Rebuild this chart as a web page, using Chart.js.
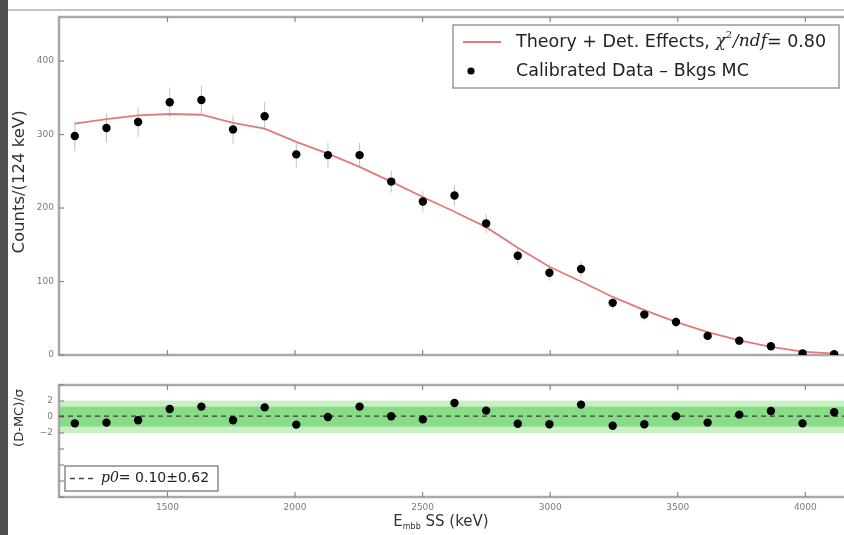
<!DOCTYPE html>
<html><head><meta charset="utf-8">
<script src="https://cdn.jsdelivr.net/npm/chart.js@4.4.1/dist/chart.umd.min.js"></script>
<style>
html,body{margin:0;padding:0;background:#fff;overflow:hidden;width:844px;height:535px;}
#wrap{position:relative;width:844px;height:535px;overflow:hidden;background:#fff;}
canvas{position:absolute;left:0;}
#bar{position:absolute;left:0;top:0;width:8px;height:535px;background:#4f4f4f;}
#hline{position:absolute;left:8px;top:9px;width:836px;height:2px;background:#c4c4c4;}
</style></head>
<body><div id="wrap">
<canvas id="topc" width="860" height="370" style="top:0"></canvas>
<canvas id="botc" width="860" height="165" style="top:370px"></canvas>
<div id="bar"></div><div id="hline"></div>
</div>
<script>
// ---- data ----
const binCenters = [1137,1261,1385,1509,1633,1757,1881,2005,2129,2253,2377,2501,2625,2749,2873,2997,3121,3245,3369,3493,3617,3741,3865,3989,4113];
const dataCounts = [298,309,317,344,347,307,325,273,272,272,236,209,217,179,135,112,117,71,55,45,26,19.5,12,2,1];
const dataErrors = [20,20,20,20,20,19,19,18,17,17,15,14,14,13,12,11,11,9,8,7,6,5,4,3,2];
const theoryCounts = [315,321,326,328,327,316,308,290,274,256,236,215,195,174,146,120,100,79,61,45,31,20,11,4.5,2];
const residuals = [-0.8,-0.7,-0.4,1.0,1.3,-0.4,1.2,-0.95,0.0,1.3,0.1,-0.3,1.75,0.8,-0.85,-0.9,1.55,-1.1,-0.9,0.1,-0.7,0.3,0.75,-0.8,0.6];
const xRange = [1075,4175];
const xTicks = [1500,2000,2500,3000,3500,4000];
const yTicksTop = [0,100,200,300,400];
const yRangeTop = [0,460];
const yTicksBot = [-10,-8,-6,-4,-2,0,2,4];
const yLabelsBot = [-2,0,2];
const yRangeBot = [-10,4];
const p0Value = 0.10;
const p0Error = 0.62;
const bandInner = [-1.2,1.3];
const bandOuter = [-2.0,2.05];

const FONT = '"DejaVu Sans", "Liberation Sans", sans-serif';

function setTicks(arr){ return function(s){ s.ticks = arr.map(v=>({value:v})); }; }

const framePlugin = {
  id:'frame',
  beforeDatasetsDraw(chart, args, o){
    const {ctx, chartArea:a, scales} = chart;
    ctx.save();
    if (o.bands){
      for (const b of o.bands){
        const y1 = scales.y.getPixelForValue(b.r[1]), y2 = scales.y.getPixelForValue(b.r[0]);
        ctx.fillStyle = b.c;
        ctx.fillRect(a.left, y1, a.right-a.left, y2-y1);
      }
    }
    if (o.errors){
      ctx.strokeStyle = '#c2c2c2'; ctx.lineWidth = 1;
      o.xs.forEach((x,i)=>{
        const px = scales.x.getPixelForValue(x);
        const ya = scales.y.getPixelForValue(o.ys[i]-o.errors[i]);
        const yb = scales.y.getPixelForValue(o.ys[i]+o.errors[i]);
        ctx.beginPath(); ctx.moveTo(px,ya); ctx.lineTo(px,yb); ctx.stroke();
      });
    }
    ctx.strokeStyle = '#a9a9a9'; ctx.lineWidth = 2.5;
    ctx.strokeRect(a.left, a.top, a.right-a.left, a.bottom-a.top);
    ctx.strokeStyle = '#8a8a8a'; ctx.lineWidth = 1.2;
    const L = 5;
    const ln=(x1,y1,x2,y2)=>{ctx.beginPath();ctx.moveTo(x1,y1);ctx.lineTo(x2,y2);ctx.stroke();};
    for (const v of o.xt){ const px = scales.x.getPixelForValue(v); ln(px,a.top,px,a.top+L); ln(px,a.bottom,px,a.bottom-L); }
    for (const v of o.yt){ const py = scales.y.getPixelForValue(v); ln(a.left,py,a.left+L,py); ln(a.right,py,a.right-L,py); }
    ctx.restore();
  },
  afterDraw(chart, args, o){
    const ctx = chart.ctx;
    ctx.save();
    ctx.fillStyle = '#333';
    ctx.font = o.ytitle.size + 'px ' + FONT;
    ctx.textAlign = 'center'; ctx.textBaseline = 'middle';
    ctx.translate(o.ytitle.x, o.ytitle.y); ctx.rotate(-Math.PI/2);
    ctx.fillText(o.ytitle.text, 0, 0);
    ctx.restore();
    if (o.draw) o.draw(chart);
  }
};

function drawTopLegend(chart){
  const ctx = chart.ctx;
  ctx.save();
  const bx=453, by=25, bw=386, bh=63;
  ctx.fillStyle='#fff'; ctx.fillRect(bx,by,bw,bh);
  ctx.strokeStyle='#9a9a9a'; ctx.lineWidth=1.5; ctx.strokeRect(bx,by,bw,bh);
  ctx.strokeStyle='#e27a7a'; ctx.lineWidth=1.8;
  ctx.beginPath(); ctx.moveTo(463,42); ctx.lineTo(501,42); ctx.stroke();
  ctx.fillStyle='#000'; ctx.beginPath(); ctx.arc(471,71,3.6,0,Math.PI*2); ctx.fill();
  ctx.fillStyle='#222'; ctx.textBaseline='middle'; ctx.textAlign='left';
  let x = 516;
  const seg=(t,f,dy)=>{ctx.font=f; ctx.fillText(t,x,42+(dy||0)); x+=ctx.measureText(t).width;};
  seg('Theory + Det. Effects, ', '17.5px '+FONT);
  seg('\u03C7', 'italic 17px "DejaVu Serif", serif');
  seg('2', '10px "DejaVu Serif", serif', -7);
  x+=1;
  seg('/ndf', 'italic 17px "DejaVu Serif", serif');
  seg('= 0.80', '17.5px '+FONT);
  ctx.font='17.5px '+FONT;
  ctx.fillText('Calibrated Data \u2013 Bkgs MC', 516, 71);
  ctx.restore();
}

function drawBotExtras(chart){
  const ctx = chart.ctx;
  ctx.save();
  const bx=65, by=96, bw=153, bh=25;
  ctx.fillStyle='#fff'; ctx.fillRect(bx,by,bw,bh);
  ctx.strokeStyle='#777'; ctx.lineWidth=1.3; ctx.strokeRect(bx,by,bw,bh);
  ctx.strokeStyle='#444'; ctx.lineWidth=1.3; ctx.setLineDash([5,4]);
  ctx.beginPath(); ctx.moveTo(70,108.5); ctx.lineTo(97,108.5); ctx.stroke();
  ctx.setLineDash([]);
  ctx.fillStyle='#222'; ctx.textBaseline='middle'; ctx.textAlign='left';
  ctx.font='italic 14px "DejaVu Serif", serif';
  ctx.fillText('p0', 101, 108.5);
  const w = ctx.measureText('p0').width;
  ctx.font='14px '+FONT;
  ctx.fillText('= ' + p0Value.toFixed(2) + '\u00B1' + p0Error.toFixed(2), 101+w, 108.5);
  ctx.fillStyle='#333';
  const y=152;
  ctx.font='15px '+FONT; const wE=ctx.measureText('E').width;
  ctx.font='8px '+FONT; const wS=ctx.measureText('mbb').width;
  ctx.font='15px '+FONT; const wT=ctx.measureText(' SS (keV)').width;
  let x = 441 - (wE+wS+wT)/2;
  ctx.font='15px '+FONT; ctx.fillText('E', x, y); x+=wE;
  ctx.font='8px '+FONT; ctx.fillText('mbb', x, y+5); x+=wS;
  ctx.font='15px '+FONT; ctx.fillText(' SS (keV)', x, y);
  ctx.restore();
}

Chart.defaults.font.family = FONT;

const pts = binCenters.map((x,i)=>({x, y:dataCounts[i]}));
const th = binCenters.map((x,i)=>({x, y:theoryCounts[i]}));
const plain = v => String(v);

new Chart(document.getElementById('topc'), {
  type:'scatter',
  data:{datasets:[
    {label:'Calibrated Data \u2013 Bkgs MC', data:pts, pointRadius:4.2, pointBackgroundColor:'#000', pointBorderWidth:0, showLine:false},
    {label:'Theory + Det. Effects', data:th, showLine:true, borderColor:'#e27a7a', borderWidth:1.8, pointRadius:0, tension:0}
  ]},
  options:{
    responsive:false, animation:false, devicePixelRatio:1,
    layout:{padding:{left:0, top:17, right:10, bottom:0}},
    plugins:{legend:{display:false}, tooltip:{enabled:false},
      frame:{xt:xTicks, yt:yTicksTop, xs:binCenters, ys:dataCounts, errors:dataErrors,
        ytitle:{text:'Counts/(124 keV)', x:20, y:182, size:16.5}, draw:drawTopLegend}},
    scales:{
      x:{type:'linear', min:xRange[0], max:xRange[1], grid:{display:false, drawTicks:false}, border:{display:false},
         ticks:{display:false}, afterBuildTicks:setTicks(xTicks), afterFit(s){s.height=15;}},
      y:{type:'linear', min:yRangeTop[0], max:yRangeTop[1], grid:{display:false, drawTicks:false}, border:{display:false},
         ticks:{color:'#7a7a7a', font:{size:9}, padding:5, callback:plain}, afterBuildTicks:setTicks(yTicksTop), afterFit(s){s.width=59;}}
    }
  },
  plugins:[framePlugin]
});

const res = binCenters.map((x,i)=>({x, y:residuals[i]}));
const p0line = xRange.map(x=>({x, y:p0Value}));

new Chart(document.getElementById('botc'), {
  type:'scatter',
  data:{datasets:[
    {label:'residuals', data:res, pointRadius:4.2, pointBackgroundColor:'#000', pointBorderWidth:0, showLine:false},
    {label:'p0', data:p0line, showLine:true, borderColor:'#3a3a3a', borderWidth:1.3, borderDash:[5,4], pointRadius:0}
  ]},
  options:{
    responsive:false, animation:false, devicePixelRatio:1,
    layout:{padding:{left:0, top:15, right:10, bottom:0}},
    plugins:{legend:{display:false}, tooltip:{enabled:false},
      frame:{xt:xTicks, yt:yTicksBot,
        bands:[{r:bandOuter, c:'#c9f0c5'},{r:bandInner, c:'#88dc86'}],
        ytitle:{text:'(D-MC)/\u03C3', x:20, y:48, size:13}, draw:drawBotExtras}},
    scales:{
      x:{type:'linear', min:xRange[0], max:xRange[1], grid:{display:false, drawTicks:false}, border:{display:false},
         ticks:{color:'#7a7a7a', font:{size:9}, padding:5, maxRotation:0, callback:plain}, afterBuildTicks:setTicks(xTicks), afterFit(s){s.height=38;}},
      y:{type:'linear', min:yRangeBot[0], max:yRangeBot[1], grid:{display:false, drawTicks:false}, border:{display:false},
         ticks:{color:'#7a7a7a', font:{size:9}, padding:6,
           callback:(v)=> yLabelsBot.includes(v) ? String(v).replace('-', '\u2212') : ''},
         afterBuildTicks:setTicks(yTicksBot), afterFit(s){s.width=59;}}
    }
  },
  plugins:[framePlugin]
});
</script>
</body></html>
